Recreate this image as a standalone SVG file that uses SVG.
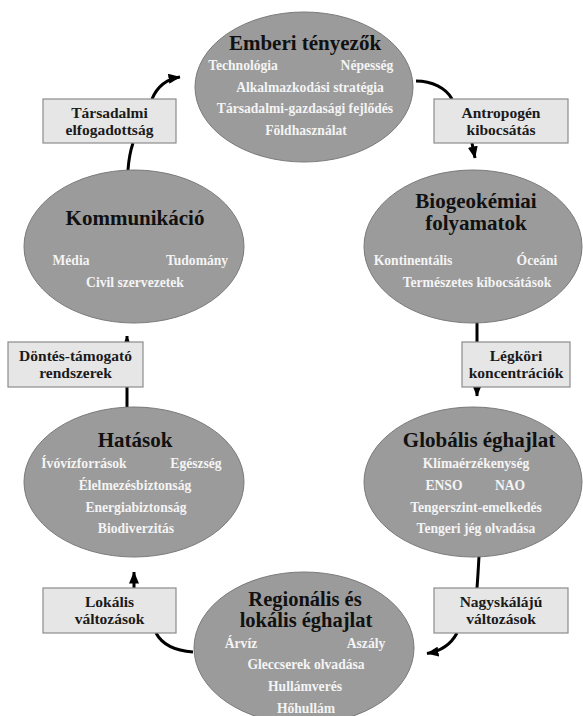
<svg xmlns="http://www.w3.org/2000/svg" width="583" height="716" viewBox="0 0 583 716" font-family="'Liberation Serif', 'Times New Roman', serif" font-weight="bold">
<style>
.el{fill:#9b9b9b;stroke:#7a7a7a;stroke-width:1}
.bx{fill:#e6e6e6;stroke:#8c8c8c;stroke-width:1.2}
text{font-family:"Liberation Serif","Times New Roman",serif;font-weight:bold;text-anchor:middle}
.t{font-size:21px;fill:#111}
.i{font-size:13.6px;fill:#f4f4f4}
.b{font-size:15.5px;fill:#1a1a1a}
.c{fill:none;stroke:#000;stroke-width:3}
</style>
<defs>
<marker id="ah" markerUnits="userSpaceOnUse" markerWidth="12" markerHeight="10" viewBox="0 0 12 10" refX="11.5" refY="5" orient="auto">
<path d="M0,0 L12,5 L0,10 z" fill="#000"/>
</marker>
</defs>
<g id="connectors">
<path class="c" d="M152,99 Q160,80 180,77" marker-end="url(#ah)"/>
<path class="c" d="M128,170 Q129,155 133,143"/>
<path class="c" d="M416,81 C432,81 446,88 452,99"/>
<path class="c" d="M472,143 L475,158" marker-end="url(#ah)"/>
<path class="c" d="M477,322 L477,342"/>
<path class="c" d="M477,387 L477,396" marker-end="url(#ah)"/>
<path class="c" d="M479,556 Q478,575 477,588"/>
<path class="c" d="M457,633 Q448,650 427,653.5" marker-end="url(#ah)"/>
<path class="c" d="M193,652 Q165,650 156,633"/>
<path class="c" d="M134,588 L134,572" marker-end="url(#ah)"/>
<path class="c" d="M127,407 L127,387"/>
<path class="c" d="M127,342 L127,336" marker-end="url(#ah)"/>
</g>
<g id="emberi">
<ellipse class="el" cx="304" cy="87" rx="109" ry="75"/>
<text class="t" x="305" y="50">Emberi tényezők</text>
<text class="i" x="243" y="70">Technológia</text>
<text class="i" x="367" y="70">Népesség</text>
<text class="i" x="310" y="92">Alkalmazkodási stratégia</text>
<text class="i" x="305" y="113">Társadalmi-gazdasági fejlődés</text>
<text class="i" x="306" y="135">Földhasználat</text>
</g>
<g id="kommunikacio">
<ellipse class="el" cx="134" cy="246.5" rx="110" ry="76.5"/>
<text class="t" x="135" y="225">Kommunikáció</text>
<text class="i" x="71" y="265">Média</text>
<text class="i" x="197" y="265">Tudomány</text>
<text class="i" x="135" y="287">Civil szervezetek</text>
</g>
<g id="biogeo">
<ellipse class="el" cx="473" cy="246.5" rx="109" ry="76.5"/>
<text class="t" x="476" y="208">Biogeokémiai</text>
<text class="t" x="476" y="230">folyamatok</text>
<text class="i" x="413" y="265">Kontinentális</text>
<text class="i" x="537" y="265">Óceáni</text>
<text class="i" x="477" y="287">Természetes kibocsátások</text>
</g>
<g id="hatasok">
<ellipse class="el" cx="134" cy="482" rx="110" ry="75"/>
<text class="t" x="135" y="447">Hatások</text>
<text class="i" x="84" y="468">Ívóvízforrások</text>
<text class="i" x="196" y="468">Egészség</text>
<text class="i" x="135" y="490">Élelmezésbiztonság</text>
<text class="i" x="136" y="512">Energiabiztonság</text>
<text class="i" x="136" y="533">Biodiverzitás</text>
</g>
<g id="globalis">
<ellipse class="el" cx="473" cy="482" rx="109" ry="75"/>
<text class="t" x="479" y="447">Globális éghajlat</text>
<text class="i" x="476" y="468">Klímaérzékenység</text>
<text class="i" x="444" y="490">ENSO</text>
<text class="i" x="510" y="490">NAO</text>
<text class="i" x="476" y="512">Tengerszint-emelkedés</text>
<text class="i" x="476" y="533">Tengeri jég olvadása</text>
</g>
<g id="regionalis">
<ellipse class="el" cx="304" cy="648" rx="110" ry="76"/>
<text class="t" x="305" y="606" style="font-size:20.5px">Regionális és</text>
<text class="t" x="306" y="627" style="font-size:20.5px">lokális éghajlat</text>
<text class="i" x="241" y="648">Árvíz</text>
<text class="i" x="366" y="648">Aszály</text>
<text class="i" x="306" y="669">Gleccserek olvadása</text>
<text class="i" x="305" y="691">Hullámverés</text>
<text class="i" x="306" y="713">Hőhullám</text>
</g>
<g id="tarsadalmi">
<rect class="bx" x="43" y="99" width="133" height="44"/>
<text class="b" x="109.5" y="118">Társadalmi</text>
<text class="b" x="109.5" y="135">elfogadottság</text>
</g>
<g id="antropogen">
<rect class="bx" x="434" y="99" width="134" height="44"/>
<text class="b" x="501" y="118">Antropogén</text>
<text class="b" x="501" y="135">kibocsátás</text>
</g>
<g id="dontes">
<rect class="bx" x="8" y="342" width="135" height="45"/>
<text class="b" x="75.5" y="361">Döntés-támogató</text>
<text class="b" x="75.5" y="378">rendszerek</text>
</g>
<g id="legkori">
<rect class="bx" x="462" y="342" width="108" height="45"/>
<text class="b" x="516" y="361">Légköri</text>
<text class="b" x="516" y="378">koncentrációk</text>
</g>
<g id="lokalis">
<rect class="bx" x="43" y="588" width="133" height="45"/>
<text class="b" x="109.5" y="607">Lokális</text>
<text class="b" x="109.5" y="624">változások</text>
</g>
<g id="nagyskalaju">
<rect class="bx" x="434" y="588" width="134" height="45"/>
<text class="b" x="501" y="607">Nagyskálájú</text>
<text class="b" x="501" y="624">változások</text>
</g>
</svg>
